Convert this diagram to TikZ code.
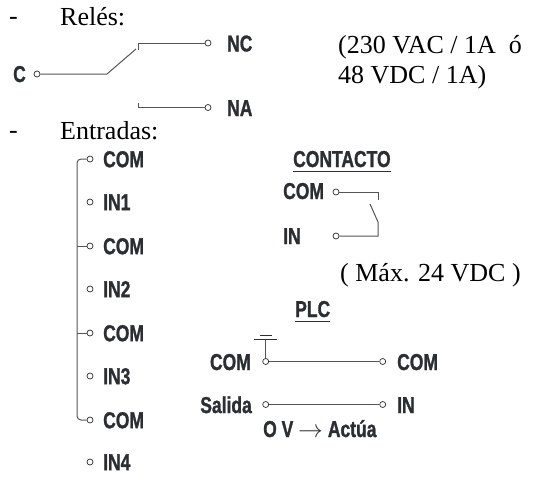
\documentclass[tikz,border=0pt]{standalone}
\usepackage{fontspec}
\setmainfont{Liberation Serif}
\newfontfamily\lblfont[FakeStretch=0.76,FakeBold=1.2]{Liberation Sans}
\definecolor{ink}{HTML}{2B2E33}
\definecolor{wirec}{HTML}{555555}
\begin{document}
\begin{tikzpicture}[x=1pt,y=-1pt,
 lbl/.style={font={\lblfont\bfseries\fontsize{23}{25}\selectfont}, text=ink, inner sep=0pt, anchor=base west},
 txt/.style={font={\fontsize{26}{30}\selectfont}, inner sep=0pt, anchor=base west},
 term/.style={circle, draw=ink, fill=white, inner sep=0pt, minimum size=6pt, line width=0.7pt},
 wire/.style={draw=wirec, line width=1pt},
 uline/.style={draw=ink, line width=1.2pt}
]
\useasboundingbox (0,0) rectangle (547,477);

% ---------- Relés ----------
\node[txt] (h1) at (9,24) {-};
\node[txt] (rel) at (60,25) {Relés:};
\node[lbl] (lc) at (13,82) {C};
\node[term] (tc) at (37,74) {};
\node[term] (tnc) at (208,43) {};
\node[term] (tna) at (208,107.5) {};
\node[lbl] (lnc) at (227,51.5) {NC};
\node[lbl] (lna) at (227,116) {NA};
\coordinate (k1) at (107,74);
\coordinate (k2) at (136,49);
\coordinate (k3) at (138,50);
\coordinate (k4) at (138,43);
\coordinate (k5) at (138,102.5);
\coordinate (k6) at (138,107.5);
\draw[wire] (tc) -- (k1) -- (k2);
\draw[wire] (k3) -- (k4) -- (tnc);
\draw[wire] (k5) -- (k6) -- (tna);
\node[txt] (spec1) at (338,53) {(230 VAC / 1A \ ó};
\node[txt] (spec2) at (338,83) {48 VDC / 1A)};

% ---------- Entradas ----------
\node[txt] (h2) at (9,138) {-};
\node[txt] (ent) at (60,139.5) {Entradas:};
\foreach \n/\t/\yy in {c1/COM/159, i1/IN1/202, c2/COM/246, i2/IN2/289, c3/COM/333, i3/IN3/376, c4/COM/420, i4/IN4/462}{
  \node[term] (t\n) at (90,\yy) {};
  \node[lbl] (l\n) at (103,\yy+8.2) {\t};
}
\coordinate (vtop) at (77,159);
\coordinate (vbot) at (77,420);
\draw[wire, rounded corners=4pt] (tc1) -- (vtop) -- (vbot) -- (tc4);
\draw[wire] (tc2) -- (77,246);
\draw[wire] (tc3) -- (77,333);

% ---------- Contacto ----------
\node[lbl] (ct) at (293,167) {CONTACTO};
\draw[uline] ([yshift=-4pt]ct.south west) -- ([yshift=-4pt]ct.south east);
\node[lbl] (lcc) at (283,199) {COM};
\node[lbl] (lci) at (283,244) {IN};
\node[term] (tcc) at (336,192) {};
\node[term] (tci) at (336,236) {};
\coordinate (s1) at (378,192);
\coordinate (s2) at (378,200);
\coordinate (s3) at (370,204);
\coordinate (s4) at (378,222);
\coordinate (s5) at (378,236);
\draw[wire] (tcc) -- (s1) -- (s2);
\draw[wire] (s3) -- (s4) -- (s5) -- (tci);
\node[txt] (max) at (340,281) {( Máx. 24 VDC )};

% ---------- PLC ----------
\node[lbl] (plc) at (295,317) {PLC};
\draw[uline] ([yshift=-4pt]plc.south west) -- ([yshift=-4pt]plc.south east);
\node[lbl, anchor=base east] (lpc) at (251,370) {COM};
\node[lbl, anchor=base east] (lps) at (252,413) {Salida};
\node[term] (tpc) at (265.7,361.5) {};
\node[term] (tps) at (265.7,404.5) {};
\node[term] (tpc2) at (382.7,361.5) {};
\node[term] (tps2) at (382.7,404.5) {};
\node[lbl] (lpc2) at (397,370) {COM};
\node[lbl] (lps2) at (397,413) {IN};
\draw[wire] (tpc) -- (tpc2);
\draw[wire] (tps) -- (tps2);
\coordinate (g0) at (265.7,339.5);
\draw[wire] (tpc) -- (g0);
\draw[draw=ink, line width=1pt] (254,339.5) -- (277,339.5);
\draw[draw=ink, line width=1pt] (259.5,335.5) -- (271.5,335.5);
\node[lbl] (act) at (263,437) {O V {\color{ink}$\rightarrow$} Actúa};
\end{tikzpicture}
\end{document}
